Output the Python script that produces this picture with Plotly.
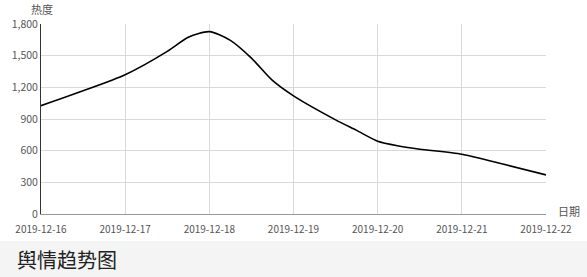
import plotly.graph_objects as go

# data
times = [
    "2019-12-16 00:00", "2019-12-16 12:00", "2019-12-17 00:00", "2019-12-17 12:00",
    "2019-12-17 18:00", "2019-12-18 00:00", "2019-12-18 06:00", "2019-12-18 12:00",
    "2019-12-18 18:00", "2019-12-19 00:00", "2019-12-19 12:00", "2019-12-19 18:00",
    "2019-12-20 00:00", "2019-12-20 06:00", "2019-12-20 12:00", "2019-12-21 00:00",
    "2019-12-21 12:00", "2019-12-22 00:00",
]
heat = [1026, 1167, 1319, 1540, 1675, 1728, 1645, 1477, 1265, 1119, 892, 792,
        690, 645, 614, 566, 471, 370]

y_ticks = [0, 300, 600, 900, 1200, 1500, 1800]
x_ticks = ["2019-12-16", "2019-12-17", "2019-12-18", "2019-12-19",
           "2019-12-20", "2019-12-21", "2019-12-22"]

title_text = "舆情趋势图"
y_name = "热度"
x_name = "日期"

W, H = 587, 277
ml, mr, mt, mb = 41, 41, 24, 63
ph = H - mt - mb
pw = W - ml - mr

fig = go.Figure()
fig.add_trace(go.Scatter(
    x=times, y=heat, mode="lines",
    line=dict(color="#000000", width=1.6, shape="spline", smoothing=0.7),
    hoverinfo="x+y", showlegend=False,
))

font_family = "Noto Sans CJK SC, Noto Sans, sans-serif"

fig.update_xaxes(
    type="date",
    range=["2019-12-16", "2019-12-22"],
    tickvals=x_ticks, ticktext=x_ticks,
    showgrid=True, gridcolor="#d9d9d9", gridwidth=1,
    showline=True, linecolor="#999999", linewidth=1,
    ticks="", ticklabelstandoff=6,
    tickfont=dict(family=font_family, size=10, color="#555555"),
    zeroline=False, fixedrange=True,
)
fig.update_yaxes(
    range=[0, 1800],
    tickvals=y_ticks, ticktext=[f"{v:,}" for v in y_ticks],
    showgrid=True, gridcolor="#d9d9d9", gridwidth=1,
    showline=True, linecolor="#333333", linewidth=1,
    ticks="", tickfont=dict(family=font_family, size=10.5, color="#555555"),
    zeroline=False, fixedrange=True,
)

band_top = -(241 - (mt + ph)) / ph
band_bot = -(H - (mt + ph)) / ph - 0.05

fig.add_shape(type="rect", xref="paper", yref="paper",
              x0=-ml / pw - 0.05, x1=1 + mr / pw + 0.05,
              y0=band_bot, y1=band_top,
              fillcolor="#f4f4f4", line=dict(width=0), layer="below")

fig.add_annotation(text=title_text, xref="paper", yref="paper",
                   x=-(ml - 15) / pw, y=-(259 - (mt + ph)) / ph,
                   xanchor="left", yanchor="middle", showarrow=False,
                   font=dict(family=font_family, size=20, color="#222222"))
fig.add_annotation(text=y_name, xref="paper", yref="paper",
                   x=-(ml - 29) / pw, y=1 + (mt - 9) / ph,
                   xanchor="left", yanchor="middle", showarrow=False,
                   font=dict(family=font_family, size=11, color="#555555"))
fig.add_annotation(text=x_name, xref="paper", yref="paper",
                   x=1 + 10 / pw, y=0,
                   xanchor="left", yanchor="bottom", showarrow=False,
                   yshift=-7,
                   font=dict(family=font_family, size=11, color="#555555"))

fig.update_layout(
    width=W, height=H,
    margin=dict(l=ml, r=mr, t=mt, b=mb),
    paper_bgcolor="#ffffff", plot_bgcolor="#ffffff",
    font=dict(family=font_family),
)

fig.write_html("out.html")
